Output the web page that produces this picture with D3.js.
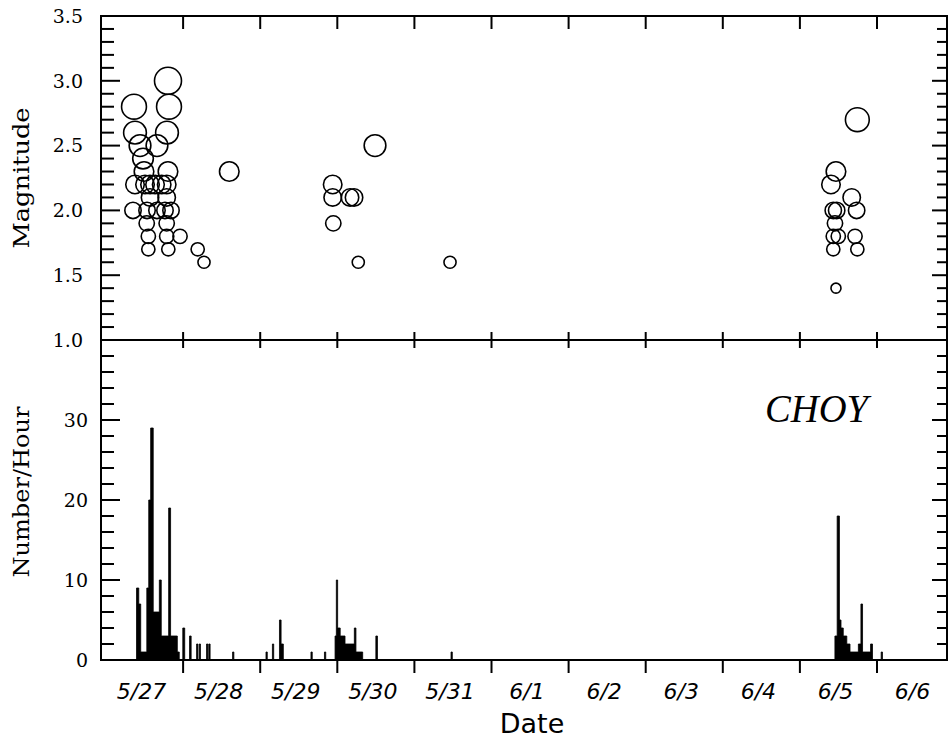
<!DOCTYPE html>
<html>
<head>
<meta charset="UTF-8" />
<title>CHOY</title>
<script src="https://d3js.org/d3.v7.min.js"></script>
<style>
  body { margin: 0; background: #fff; }
  .frame line, .ticks line { stroke: #000; stroke-width: 2; }
  .quake { fill: none; stroke: #000; stroke-width: 1.6; }
  .ylab { font: 19px "DejaVu Serif", serif; fill: #000; }
  .xlab { font: italic 22px "DejaVu Sans", sans-serif; fill: #000; }
</style>
</head>
<body>
<script>
// earthquakes: day since 5/27 00:00, magnitude
var quakeDay = [0.804, 0.363, 0.817, 0.376, 0.791, 0.441, 0.661, 0.480, 0.493, 0.804,
                0.376, 0.506, 0.571, 0.636, 0.722, 0.787, 0.571, 0.787,
                0.350, 0.532, 0.661, 0.765, 0.843, 0.528, 0.787,
                0.549, 0.787, 0.960, 0.549, 0.808, 1.189, 1.271, 1.599,
                3.489, 2.940, 2.940, 3.165, 3.217, 2.948, 3.272, 4.462,
                9.745, 9.468, 9.403, 9.672, 9.433, 9.477, 9.736, 9.455,
                9.433, 9.498, 9.715, 9.433, 9.745, 9.468];
var quakeMag = [3.0, 2.8, 2.8, 2.6, 2.6, 2.5, 2.5, 2.4, 2.3, 2.3,
                2.2, 2.2, 2.2, 2.2, 2.2, 2.2, 2.1, 2.1,
                2.0, 2.0, 2.0, 2.0, 2.0, 1.9, 1.9,
                1.8, 1.8, 1.8, 1.7, 1.7, 1.7, 1.6, 2.3,
                2.5, 2.2, 2.1, 2.1, 2.1, 1.9, 1.6, 1.6,
                2.7, 2.3, 2.2, 2.1, 2.0, 2.0, 2.0, 1.9,
                1.8, 1.8, 1.8, 1.7, 1.7, 1.4];

// hourly rate as a step series: hour since 5/27 00:00, count
var rateHour = [0, 9.5, 10.2, 10.8, 12.7, 13.3, 13.9, 14.7, 16.6, 17.2, 19.5, 20.1, 22.2, 22.8,
                23.9, 24.5, 26.0, 26.5, 28.2, 28.6, 29.0, 29.4, 31.3, 31.7, 32.0, 32.4,
                39.4, 39.8, 49.8, 50.2, 51.8, 52.2, 54.0, 54.5, 55.2, 63.8, 64.2, 68.0, 68.4,
                71.3, 71.7, 72.1, 72.9, 74.4, 77.3, 77.8, 79.9, 84.0, 84.5, 107.4, 107.8,
                226.9, 227.6, 228.3, 228.8, 229.5, 230.6, 231.6, 234.2, 235.0, 235.5, 238.0, 238.6,
                241.3, 241.7, 262];
var rateCount = [0, 9, 7, 1, 9, 20, 29, 6, 10, 3, 19, 3, 1, 0,
                 4, 0, 3, 0, 2, 0, 2, 0, 2, 0, 2, 0,
                 1, 0, 1, 0, 2, 0, 5, 2, 0, 1, 0, 1, 0,
                 3, 10, 4, 3, 2, 4, 1, 0, 3, 0, 1, 0,
                 3, 18, 5, 4, 3, 2, 1, 2, 7, 1, 2, 0,
                 1, 0, 0];

var dayLabels = ["5/27", "5/28", "5/29", "5/30", "5/31", "6/1", "6/2", "6/3", "6/4", "6/5", "6/6"];
var magTicks = [1.0, 1.5, 2.0, 2.5, 3.0, 3.5];
var rateTicks = [0, 10, 20, 30];

var W = 949, H = 740;
var pLeft = 101, pRight = 947, pTop = 16, pMid = 340, pBottom = 660;

var x = d3.scaleLinear().domain([-0.065, 10.908]).range([pLeft, pRight]);
var yMag = d3.scaleLinear().domain([1, 3.5]).range([pMid, pTop]);
var yRate = d3.scaleLinear().domain([0, 40]).range([pBottom, pMid]);
var rSize = d3.scaleLinear().domain([1.4, 3.0]).range([5, 13.5]);

var svg = d3.select("body").append("svg")
  .attr("width", W)
  .attr("height", H);

// histogram (step area)
var rateData = rateHour.map(function(h, i) { return {d: h / 24, n: rateCount[i]}; });
svg.append("path")
  .datum(rateData)
  .attr("fill", "#000")
  .attr("stroke", "#000")
  .attr("stroke-width", 0.8)
  .attr("d", d3.area()
    .curve(d3.curveStepAfter)
    .x(function(d) { return x(d.d); })
    .y0(yRate(0))
    .y1(function(d) { return yRate(d.n); }));

// bubbles
var quakes = quakeDay.map(function(d, i) { return {d: d, m: quakeMag[i]}; });
svg.append("g").selectAll("circle")
  .data(quakes)
  .enter().append("circle")
  .attr("class", "quake")
  .attr("cx", function(d) { return x(d.d); })
  .attr("cy", function(d) { return yMag(d.m); })
  .attr("r", function(d) { return rSize(d.m); });

// frame
var frame = svg.append("g").attr("class", "frame");
[[pLeft, pTop, pRight, pTop], [pLeft, pMid, pRight, pMid], [pLeft, pBottom, pRight, pBottom],
 [pLeft, pTop, pLeft, pBottom], [pRight, pTop, pRight, pBottom]].forEach(function(l) {
  frame.append("line")
    .attr("x1", l[0]).attr("y1", l[1]).attr("x2", l[2]).attr("y2", l[3])
    .attr("stroke-linecap", "square");
});

var ticks = svg.append("g").attr("class", "ticks");

// magnitude ticks, minor every 0.1
d3.range(11, 35).forEach(function(k) {
  var yy = yMag(k / 10), major = k % 5 === 0;
  ticks.append("line").attr("x1", pLeft).attr("x2", pLeft + (major ? 19 : 13)).attr("y1", yy).attr("y2", yy);
  ticks.append("line").attr("x1", pRight).attr("x2", pRight - (major ? 15 : 10)).attr("y1", yy).attr("y2", yy);
});
// rate ticks, minor every 2
d3.range(1, 20).forEach(function(k) {
  var v = k * 2, yy = yRate(v), major = v % 10 === 0;
  ticks.append("line").attr("x1", pLeft).attr("x2", pLeft + (major ? 19 : 13)).attr("y1", yy).attr("y2", yy);
  ticks.append("line").attr("x1", pRight).attr("x2", pRight - (major ? 15 : 10)).attr("y1", yy).attr("y2", yy);
});
// day ticks
d3.range(1, 11).forEach(function(d) {
  var xx = x(d);
  ticks.append("line").attr("x1", xx).attr("x2", xx).attr("y1", pTop).attr("y2", pTop + 13);
  ticks.append("line").attr("x1", xx).attr("x2", xx).attr("y1", pMid - 8).attr("y2", pMid + 8);
  ticks.append("line").attr("x1", xx).attr("x2", xx).attr("y1", pBottom).attr("y2", pBottom + 13);
});

// y labels
svg.append("g").selectAll("text")
  .data(magTicks)
  .enter().append("text")
  .attr("class", "ylab")
  .attr("x", 83)
  .attr("y", function(d) { return yMag(d); })
  .attr("dy", "0.36em")
  .attr("text-anchor", "end")
  .text(function(d) { return d3.format(".1f")(d); });

svg.append("g").selectAll("text")
  .data(rateTicks)
  .enter().append("text")
  .attr("class", "ylab")
  .attr("x", 88)
  .attr("y", function(d) { return yRate(d); })
  .attr("dy", "0.36em")
  .attr("text-anchor", "end")
  .text(function(d) { return d; });

// x labels
svg.append("g").selectAll("text")
  .data(dayLabels)
  .enter().append("text")
  .attr("class", "xlab")
  .attr("x", function(d, i) { return x(i + 0.5) - 3; })
  .attr("y", 699)
  .attr("text-anchor", "middle")
  .text(function(d) { return d; });

// axis titles
svg.append("text")
  .attr("transform", "translate(29,178) rotate(-90)")
  .attr("text-anchor", "middle")
  .attr("textLength", 141)
  .attr("lengthAdjust", "spacingAndGlyphs")
  .style("font", "22px 'DejaVu Serif', serif")
  .text("Magnitude");

svg.append("text")
  .attr("transform", "translate(29,492) rotate(-90)")
  .attr("text-anchor", "middle")
  .attr("textLength", 171)
  .attr("lengthAdjust", "spacingAndGlyphs")
  .style("font", "22px 'DejaVu Serif', serif")
  .text("Number/Hour");

svg.append("text")
  .attr("x", 532)
  .attr("y", 733)
  .attr("text-anchor", "middle")
  .style("font", "27px 'DejaVu Sans', sans-serif")
  .text("Date");

svg.append("text")
  .attr("x", 765)
  .attr("y", 422)
  .attr("textLength", 103)
  .attr("lengthAdjust", "spacingAndGlyphs")
  .style("font", "italic 39px 'Liberation Serif', serif")
  .text("CHOY");
</script>
</body>
</html>
